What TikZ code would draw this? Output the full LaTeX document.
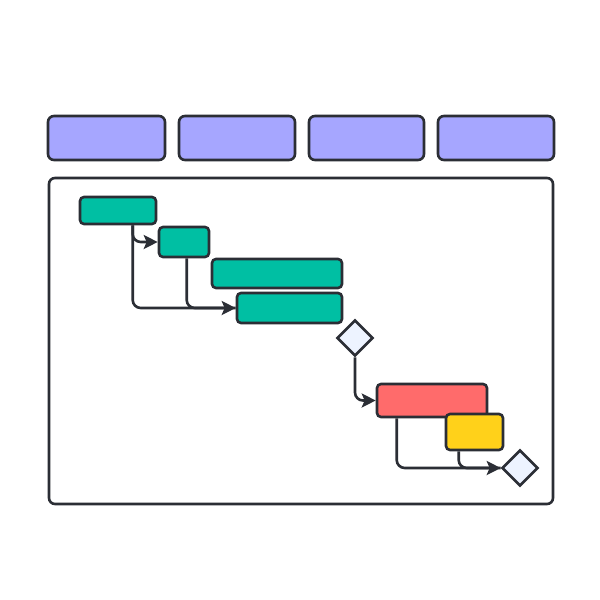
\documentclass[tikz,border=0pt]{standalone}
\usetikzlibrary{fit,shapes.geometric,arrows.meta}
\definecolor{ink}{HTML}{2B2E35}
\definecolor{hdr}{HTML}{A6A6FF}
\definecolor{grn}{HTML}{00BFA3}
\definecolor{rd}{HTML}{FF6B6B}
\definecolor{yl}{HTML}{FFD11A}
\definecolor{dm}{HTML}{EDF3FF}
\tikzset{
  box/.style={draw=ink, line width=1.3pt, inner sep=0pt, rounded corners=2pt},
  hdrbox/.style={box, fill=hdr, rounded corners=3pt},
  bar/.style={box, fill=grn},
  redbar/.style={box, fill=rd},
  ylbar/.style={box, fill=yl},
  frame/.style={box, fill=white, rounded corners=3pt},
  ms/.style={draw=ink, line width=1.3pt, fill=dm, shape=diamond, inner sep=0pt, minimum size=18pt},
  link/.style={draw=ink, line width=1.3pt, rounded corners=4pt},
  arr/.style={link, -{Stealth[length=7pt,width=7pt,inset=1.5pt]}}
}
\begin{document}
\begin{tikzpicture}[x=0.5pt,y=-0.5pt]
\useasboundingbox (0,0) rectangle (600,600);
\node[hdrbox, fit={(48,116) (165,160)}] (h1) {};
\node[hdrbox, fit={(179,116) (295,160)}] (h2) {};
\node[hdrbox, fit={(309,116) (424,160)}] (h3) {};
\node[hdrbox, fit={(438,116) (554,160)}] (h4) {};
\node[frame, fit={(49,178) (553,504)}] (fr) {};
\node[bar, fit={(80,197) (156,224)}] (b1) {};
\node[bar, fit={(159,227) (209,257)}] (b2) {};
\node[bar, fit={(212,259) (342,288)}] (b3) {};
\node[bar, fit={(237,293) (342,323)}] (b4) {};
\node[ms] (d1) at (355,338) {};
\node[redbar, fit={(377,384) (487,417)}] (rb) {};
\node[ylbar, fit={(446,414) (503,450)}] (yb) {};
\node[ms] (d2) at (520,468) {};
\draw[link] ([xshift=14.5pt]b2.south west) |- (b4.west);
\draw[arr] ([xshift=27pt]b1.south west) |- (b4.west);
\draw[arr] ([xshift=27pt]b1.south west) |- (b2.west);
\draw[arr] (d1.south) |- (rb.west);
\draw[link] ([xshift=7pt]yb.south west) |- (d2.west);
\draw[arr] ([xshift=10.5pt]rb.south west) |- (d2.west);
\end{tikzpicture}
\end{document}
